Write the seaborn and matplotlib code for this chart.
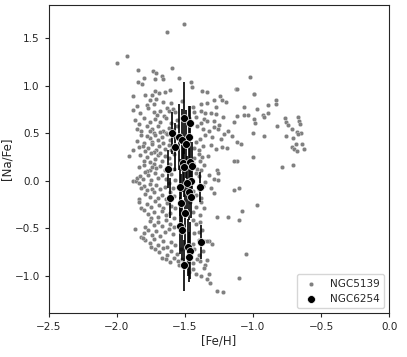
import numpy as np
import pandas as pd
import matplotlib
matplotlib.use('Agg')
import matplotlib.pyplot as plt
import seaborn as sns

# NGC5139 (omega Cen) stars: [Fe/H], [Na/Fe]
ngc5139_feh = [
    -1.51, -1.635, -1.929, -2.0, -1.845, -1.733, -1.716, -1.598, -1.672, -1.66, -1.72, -1.80, -1.845, -1.816,
    -1.544, -1.456, -1.025, -1.125, -0.99,
    -1.88, -1.79, -1.745, -1.69, -1.61, -1.45, -1.375, -1.34, -1.12, -0.99, -1.72, -1.65,
    -1.76, -1.71, -1.66, -1.855, -1.24, -1.23, -1.29, -0.83, -0.83, -1.385, -1.34, -1.196, -1.78, -1.725, -1.60, -1.52,
    -1.88, -1.83, -1.73, -1.68, -1.635, -1.59, -1.44, -1.43, -1.38, -1.35, -1.31, -1.27, -1.27, -1.064, -0.968,
    -0.887, -0.887, -1.57, -1.77, -1.62,
    -1.708, -1.652, -1.42, -1.36, -1.34, -1.383, -1.29, -1.22, -1.142, -1.115, -1.064, -1.037, -0.99, -0.985,
    -0.93, -0.92, -0.765, -0.76, -0.672, -0.66, -1.87, -1.80, -1.76, -1.72, -1.68, -1.64, -1.60, -1.56, -1.84, -1.47,
    -0.826, -0.74, -0.654, -0.713, -0.68, -0.65, -0.997, -1.186, -1.258, -1.248, -1.41, -1.37, -1.32, -1.29,
    -1.78, -1.74, -1.70, -1.82, -1.66, -1.62, -1.73, -1.68, -1.59, -1.85, -1.76, -1.64, -1.56,
    -0.757, -0.667, -0.703, -0.917, -1.157, -1.115, -1.235, -1.21, -1.30, -1.35, -1.39, -1.42, -1.85, -1.80,
    -1.76, -1.72, -1.70, -1.67, -1.63, -1.78, -1.74, -1.61, -1.66, -1.58, -1.82,
    -0.686, -0.716, -0.699, -0.642, -0.625, -0.68, -1.088, -1.311, -1.272, -1.194, -1.23, -1.40, -1.37, -1.43,
    -1.88, -1.81, -1.77, -1.74, -1.71, -1.69, -1.65, -1.62, -1.79, -1.73, -1.60, -1.84,
    -0.997, -1.375, -1.33, -1.387, -1.115, -1.137, -1.43, -1.91, -1.83, -1.78, -1.75, -1.72, -1.70, -1.67, -1.65,
    -1.62, -1.80, -1.58, -1.76, -1.68, -1.40,
    -0.784, -0.703, -1.265, -1.36, -1.41, -1.44, -1.38, -1.84, -1.80, -1.76, -1.73, -1.71, -1.68, -1.65, -1.61,
    -1.78, -1.58, -1.74,
    -1.32, -1.287, -1.26, -1.255, -1.35, -1.40, -1.42, -1.88, -1.86, -1.85, -1.83, -1.81, -1.77, -1.75, -1.72,
    -1.70, -1.67, -1.64, -1.79, -1.60, -1.57,
    -1.311, -1.284, -1.14, -1.105, -1.37, -1.40, -1.84, -1.80, -1.76, -1.74, -1.71, -1.68, -1.65, -1.62, -1.78,
    -1.59, -1.82,
    -1.79, -1.76, -1.73, -1.70, -1.67, -1.64, -1.61, -1.42, -1.38, -1.44, -1.84, -1.58,
    -0.973, -1.382, -1.36, -1.84, -1.82, -1.78, -1.75, -1.72, -1.69, -1.66, -1.63, -1.60, -1.42, -1.46, -1.57,
    -1.08, -1.186, -1.262, -1.39, -1.80, -1.77, -1.73, -1.70, -1.67, -1.64, -1.61, -1.58, -1.75, -1.44,
    -1.105, -1.39, -1.76, -1.73, -1.70, -1.67, -1.64, -1.61, -1.58, -1.79, -1.42, -1.44,
    -1.87, -1.395, -1.375, -1.80, -1.77, -1.74, -1.71, -1.68, -1.65, -1.62, -1.59, -1.82, -1.43,
    -1.30, -1.32, -1.36, -1.34, -1.79, -1.76, -1.73, -1.70, -1.66, -1.63, -1.60, -1.81, -1.44, -1.40, -1.57,
    -1.054, -1.72, -1.69, -1.66, -1.63, -1.60, -1.56, -1.43, -1.40, -1.37, -1.53, -1.75,
    -1.353, -1.39, -1.34, -1.64, -1.61, -1.58, -1.55, -1.52, -1.44, -1.41, -1.67, -1.54, -1.48,
    -1.385, -1.42, -1.326, -1.44, -1.47, -1.36,
    -1.103, -1.336, -1.316, -1.223, -1.265,
]
ngc5139_nafe = [
    1.65, 1.565, 1.31, 1.235, 1.165, 1.158, 1.137, 1.19, 1.105, 1.07, 1.07, 1.08, 1.035, 1.02,
    1.08, 1.04, 1.088, 0.965, 0.916,
    0.89, 0.90, 0.905, 0.92, 0.96, 0.99, 0.95, 0.93, 0.965, 0.915, 0.95, 0.93,
    0.85, 0.86, 0.83, 0.79, 0.89, 0.85, 0.85, 0.85, 0.81, 0.81, 0.82, 0.83, 0.80, 0.81, 0.82, 0.84,
    0.75, 0.71, 0.72, 0.74, 0.77, 0.76, 0.78, 0.72, 0.74, 0.71, 0.71, 0.78, 0.705, 0.78, 0.754,
    0.796, 0.712, 0.72, 0.77, 0.73,
    0.69, 0.684, 0.677, 0.656, 0.625, 0.614, 0.63, 0.677, 0.621, 0.68, 0.688, 0.691, 0.653, 0.614,
    0.695, 0.667, 0.66, 0.617, 0.677, 0.635, 0.64, 0.66, 0.62, 0.65, 0.62, 0.66, 0.61, 0.64, 0.60, 0.66,
    0.582, 0.586, 0.596, 0.547, 0.51, 0.50, 0.50, 0.53, 0.547, 0.593, 0.58, 0.55, 0.52, 0.57,
    0.58, 0.55, 0.58, 0.52, 0.53, 0.56, 0.50, 0.51, 0.54, 0.55, 0.52, 0.50, 0.58,
    0.474, 0.495, 0.449, 0.477, 0.474, 0.414, 0.439, 0.49, 0.46, 0.48, 0.44, 0.41, 0.42, 0.40,
    0.45, 0.48, 0.43, 0.46, 0.49, 0.47, 0.41, 0.43, 0.40, 0.47, 0.48,
    0.389, 0.361, 0.337, 0.389, 0.337, 0.319, 0.393, 0.379, 0.337, 0.351, 0.36, 0.33, 0.37, 0.35,
    0.33, 0.37, 0.35, 0.39, 0.32, 0.37, 0.34, 0.38, 0.31, 0.30, 0.32, 0.36,
    0.249, 0.256, 0.263, 0.207, 0.207, 0.207, 0.24, 0.26, 0.27, 0.25, 0.29, 0.23, 0.27, 0.21, 0.26,
    0.24, 0.21, 0.28, 0.20, 0.29, 0.28,
    0.144, 0.172, 0.12, 0.17, 0.13, 0.19, 0.11, 0.15, 0.17, 0.12, 0.18, 0.14, 0.16, 0.11, 0.18,
    0.10, 0.13, 0.15,
    0.063, 0.018, 0.01, 0.088, -0.01, 0.05, 0.08, 0.0, 0.0, 0.03, 0.05, 0.02, 0.06, 0.01, 0.08,
    0.03, 0.06, 0.02, 0.09, 0.07, 0.01,
    -0.07, -0.123, -0.095, -0.074, -0.05, -0.08, -0.02, -0.05, -0.03, -0.08, -0.04, -0.09, -0.06, -0.02, -0.10,
    -0.07, -0.07,
    -0.14, -0.17, -0.12, -0.18, -0.15, -0.19, -0.12, -0.15, -0.18, -0.11, -0.19, -0.16,
    -0.253, -0.218, -0.284, -0.22, -0.29, -0.24, -0.27, -0.21, -0.25, -0.28, -0.23, -0.26, -0.27, -0.22, -0.29,
    -0.32, -0.375, -0.379, -0.36, -0.31, -0.35, -0.33, -0.38, -0.32, -0.36, -0.34, -0.39, -0.39, -0.33,
    -0.407, -0.428, -0.42, -0.46, -0.43, -0.47, -0.41, -0.45, -0.48, -0.48, -0.45, -0.41,
    -0.51, -0.54, -0.516, -0.55, -0.52, -0.57, -0.53, -0.58, -0.54, -0.51, -0.56, -0.59, -0.55,
    -0.667, -0.628, -0.628, -0.63, -0.62, -0.65, -0.61, -0.67, -0.63, -0.69, -0.64, -0.60, -0.66, -0.62, -0.67,
    -0.768, -0.72, -0.75, -0.71, -0.78, -0.74, -0.77, -0.72, -0.78, -0.74, -0.72, -0.70,
    -0.884, -0.839, -0.83, -0.82, -0.85, -0.81, -0.84, -0.82, -0.86, -0.82, -0.81, -0.88, -0.85,
    -1.00, -0.98, -0.98, -0.93, -0.96, -0.92,
    -1.02, -1.03, -1.07, -1.17, -1.16,
]

# NGC6254 (M10) stars with [Na/Fe] uncertainties
ngc6254_feh = [
    -1.507, -1.463, -1.593, -1.547, -1.468, -1.525, -1.495, -1.574, -1.627, -1.517,
    -1.463, -1.446, -1.505, -1.453, -1.483, -1.537, -1.473, -1.39, -1.61, -1.453,
    -1.529, -1.50, -1.537, -1.525, -1.38, -1.48, -1.463, -1.47, -1.505,
]
ngc6254_nafe = [
    0.663, 0.607, 0.50, 0.46, 0.467, 0.43, 0.386, 0.354, 0.123, 0.186,
    0.197, 0.161, 0.151, 0.0, -0.02, -0.067, -0.116, -0.067, -0.18, -0.165,
    -0.228, -0.34, -0.47, -0.516, -0.646, -0.70, -0.733, -0.80, -0.888,
]
ngc6254_err = [
    0.38, 0.18, 0.22, 0.35, 0.32, 0.33, 0.36, 0.25, 0.2, 0.3,
    0.3, 0.25, 0.32, 0.2, 0.28, 0.3, 0.3, 0.16, 0.21, 0.22,
    0.3, 0.35, 0.3, 0.32, 0.18, 0.3, 0.3, 0.26, 0.27,
]

omega = pd.DataFrame({'[Fe/H]': ngc5139_feh, '[Na/Fe]': ngc5139_nafe})
m10 = pd.DataFrame({'[Fe/H]': ngc6254_feh, '[Na/Fe]': ngc6254_nafe, 'err': ngc6254_err})

sns.set_style('ticks')
fig, ax = plt.subplots(figsize=(4.07, 3.57), dpi=100)
fig.subplots_adjust(left=0.12, right=0.956, bottom=0.123, top=0.986)

sns.scatterplot(data=omega, x='[Fe/H]', y='[Na/Fe]', color='gray', s=10,
                edgecolor='white', linewidth=0.2, label='NGC5139', ax=ax)
ax.errorbar(m10['[Fe/H]'], m10['[Na/Fe]'], yerr=m10['err'], fmt='none',
            ecolor='black', elinewidth=1.2, capsize=0, zorder=3)
sns.scatterplot(data=m10, x='[Fe/H]', y='[Na/Fe]', color='black', s=32,
                edgecolor='white', linewidth=0.5, label='NGC6254', ax=ax, zorder=4)

ax.set_xlim(-2.5, 0.0)
ax.set_ylim(-1.39, 1.85)
ax.set_xticks([-2.5, -2.0, -1.5, -1.0, -0.5, 0.0])
ax.set_yticks([-1.0, -0.5, 0.0, 0.5, 1.0, 1.5])
ax.tick_params(labelsize=7.5, length=3)
ax.set_xlabel('[Fe/H]', fontsize=8.5, labelpad=2)
ax.set_ylabel('[Na/Fe]', fontsize=8.5, labelpad=1)
ax.yaxis.set_label_coords(-0.105, 0.5)
ax.legend(loc='lower right', fontsize=7.5)

plt.savefig('out.png', dpi=100)
plt.close()
